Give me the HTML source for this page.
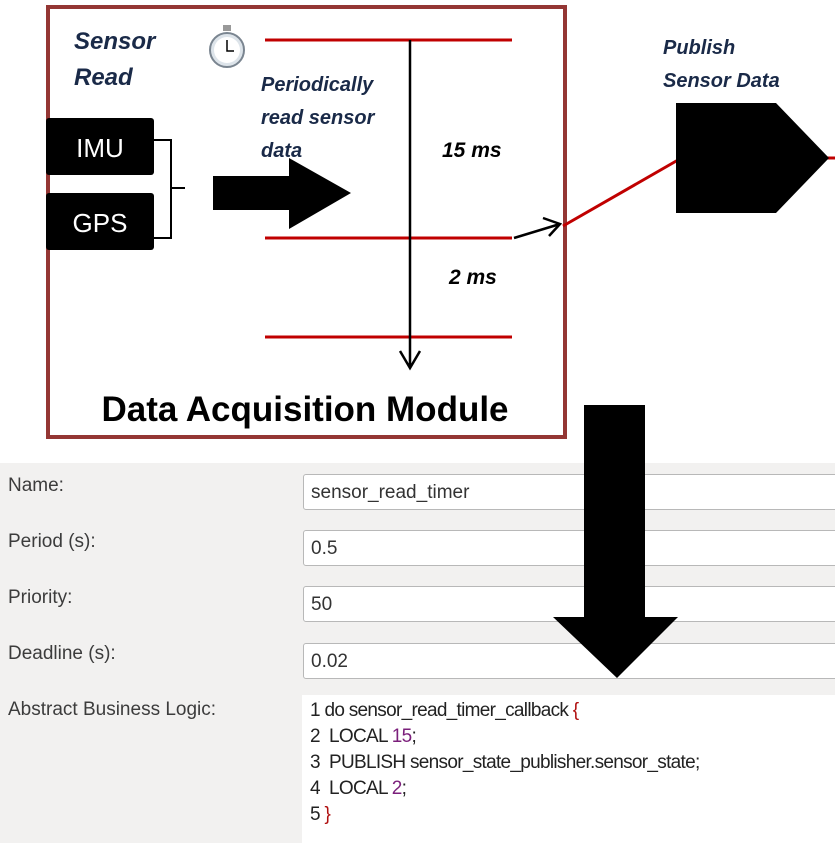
<!DOCTYPE html>
<html><head><meta charset="utf-8"><style>
body{margin:0;width:835px;height:843px;overflow:hidden;background:#fff;position:relative;font-family:"Liberation Sans",sans-serif}
.panel{position:absolute;left:0;top:463px;width:835px;height:380px;background:#f2f1f0}
.lbl{position:absolute;left:8px;font-size:19px;color:#3c3c3c}
.fld{position:absolute;left:303px;width:540px;height:36px;background:#fff;border:1px solid #b8b8b8;border-radius:3px;box-sizing:border-box;font-size:19px;color:#333;padding:7px 0 0 7px}
.code{position:absolute;left:302px;top:695px;width:533px;height:148px;background:#fff;font-size:19px;color:#222;line-height:26px;padding:3px 0 0 8px;box-sizing:border-box;letter-spacing:-0.7px}
.p{color:#7b1f7b}.r{color:#b01010}
svg{position:absolute;left:0;top:0}
</style></head><body>
<div class="panel"></div>
<div class="lbl" style="top:475px">Name:</div>
<div class="lbl" style="top:531px">Period (s):</div>
<div class="lbl" style="top:587px">Priority:</div>
<div class="lbl" style="top:643px">Deadline (s):</div>
<div class="lbl" style="top:699px">Abstract Business Logic:</div>
<div class="fld" style="top:474px">sensor_read_timer</div>
<div class="fld" style="top:530px">0.5</div>
<div class="fld" style="top:586px">50</div>
<div class="fld" style="top:643px">0.02</div>
<div class="code">1 do sensor_read_timer_callback <span class="r">{</span><br>2 &nbsp;LOCAL <span class="p">15</span>;<br>3 &nbsp;PUBLISH sensor_state_publisher.sensor_state;<br>4 &nbsp;LOCAL <span class="p">2</span>;<br>5 <span class="r">}</span></div>
<svg width="835" height="843" viewBox="0 0 835 843">
<rect x="48" y="7" width="517" height="430" fill="none" stroke="#943634" stroke-width="4"/>
<g font-family="Liberation Sans" font-style="italic" font-weight="bold" fill="#1a2a48">
<text x="74" y="49" font-size="24">Sensor</text><text x="74" y="85" font-size="24">Read</text>
<text x="261" y="91" font-size="20">Periodically</text><text x="261" y="124" font-size="20">read sensor</text><text x="261" y="157" font-size="20">data</text>
<text x="663" y="54" font-size="20">Publish</text><text x="663" y="87" font-size="20">Sensor Data</text>
</g>
<g font-family="Liberation Sans" font-style="italic" font-weight="bold" fill="#000" font-size="21">
<text x="442" y="157">15 ms</text><text x="449" y="284">2 ms</text></g>
<circle cx="227" cy="50" r="17" fill="#dde4ea" stroke="#7a8590" stroke-width="2"/>
<circle cx="227" cy="50" r="13" fill="#fff"/>
<rect x="223" y="25" width="8" height="6" fill="#999"/>
<path d="M227 40V51H234" stroke="#000" stroke-width="1.5" fill="none"/>
<rect x="46" y="118" width="108" height="57" rx="3" fill="#000"/>
<rect x="46" y="193" width="108" height="57" rx="3" fill="#000"/>
<text x="100" y="157" fill="#fff" font-size="26" text-anchor="middle">IMU</text>
<text x="100" y="232" fill="#fff" font-size="26" text-anchor="middle">GPS</text>
<path d="M154 140H171V238H154M171 188H185" stroke="#000" stroke-width="2" fill="none"/>
<polygon points="213,176 289,176 289,158 351,193 289,229 289,210 213,210" fill="#000"/>
<g stroke="#c00000" stroke-width="3">
<line x1="265" y1="40" x2="512" y2="40"/><line x1="265" y1="238" x2="512" y2="238"/><line x1="265" y1="337" x2="512" y2="337"/>
<line x1="563" y1="226" x2="678" y2="160"/><line x1="826" y1="158" x2="835" y2="158"/></g>
<path d="M410 40V368M400 351L410 368L420 351" stroke="#000" stroke-width="2.5" fill="none"/>
<path d="M514 238L560 224M543 218L560 224L549 236" stroke="#000" stroke-width="2.5" fill="none"/>
<polygon points="676,103 776,103 829,158 776,213 676,213" fill="#000"/>
<text x="305" y="421" font-family="Liberation Sans" font-weight="bold" font-size="35" text-anchor="middle" fill="#000">Data Acquisition Module</text>
<polygon points="584,405 645,405 645,617 678,617 617,678 553,617 584,617" fill="#000"/>
</svg>
</body></html>
